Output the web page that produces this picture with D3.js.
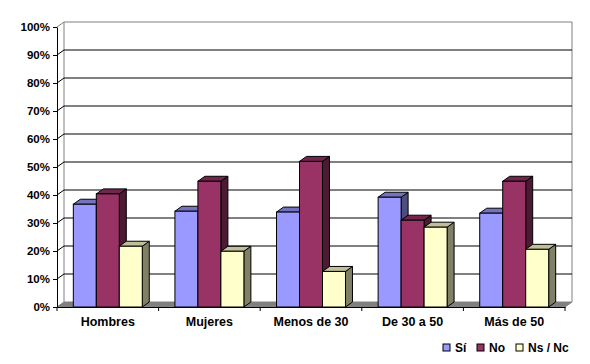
<!DOCTYPE html>
<html>
<head>
<meta charset="utf-8">
<script src="https://cdn.jsdelivr.net/npm/d3@7/dist/d3.min.js"></script>
<style>
  body { margin: 0; background: #fff; }
  text { font-family: "Liberation Sans", Arial, sans-serif; font-weight: bold; }
</style>
</head>
<body>
<div id="chart"></div>
<script>
const categories = ["Hombres", "Mujeres", "Menos de 30", "De 30 a 50", "Más de 50"];
const seriesNames = ["Sí", "No", "Ns / Nc"];
const si = [36.7, 34.2, 33.9, 39.2, 33.5];
const no = [40.4, 44.9, 52.0, 31.0, 44.9];
const nsnc = [21.7, 19.9, 12.7, 28.5, 20.6];
const yTicks = [0, 10, 20, 30, 40, 50, 60, 70, 80, 90, 100];

const W = 590, H = 364;
const dx = 7, dy = 5; // 3d depth

// front, top, side colours per series
const colors = [
  {front: "#9999ff", top: "#7373bf", side: "#4d4d80"},
  {front: "#993366", top: "#73264d", side: "#4d1a33"},
  {front: "#ffffcc", top: "#bfbf99", side: "#808066"}
];

const svg = d3.select("#chart").append("svg")
  .attr("width", W).attr("height", H);

const x = d3.scaleBand().domain(categories).range([57, 565]).padding(0);
const x1 = d3.scaleBand().domain(seriesNames).range([0, x.bandwidth()])
  .paddingInner(0).paddingOuter(0.71);
const y = d3.scaleLinear().domain([0, 100]).range([307, 27]);

const table = categories.map((c, i) => ({cat: c, vals: [si[i], no[i], nsnc[i]]}));

// back wall
const x0 = x.range()[0], xEnd = x.range()[1];
svg.append("path")
  .attr("d", `M${x0 + dx},${y(0) - dy} V${y(100) - dy} H${xEnd + dx} V${y(0) - dy}`)
  .attr("fill", "none").attr("stroke", "#808080");
svg.append("line")
  .attr("x1", x0).attr("y1", y(100)).attr("x2", x0 + dx).attr("y2", y(100) - dy)
  .attr("stroke", "#808080");

// gridlines on back wall + side wall
yTicks.filter(t => t > 0 && t < 100).forEach(t => {
  svg.append("line")
    .attr("x1", x0 + dx).attr("x2", xEnd + dx)
    .attr("y1", y(t) - dy).attr("y2", y(t) - dy)
    .attr("stroke", "#000");
  svg.append("line")
    .attr("x1", x0).attr("y1", y(t)).attr("x2", x0 + dx).attr("y2", y(t) - dy)
    .attr("stroke", "#000");
});

// floor
svg.append("path")
  .attr("d", `M${x0},${y(0)} L${xEnd},${y(0)} L${xEnd + dx},${y(0) - dy} L${x0 + dx},${y(0) - dy} Z`)
  .attr("fill", "#808080").attr("stroke", "#808080");

// bars
const bars = [];
table.forEach(d => {
  d.vals.forEach((v, j) => bars.push({cat: d.cat, s: seriesNames[j], j: j, v: v}));
});

const g = svg.selectAll("g.bar").data(bars).enter().append("g").attr("class", "bar");
g.each(function(d) {
  const el = d3.select(this);
  const bx = x(d.cat) + x1(d.s), bw = x1.bandwidth();
  const top = y(d.v), base = y(0);
  const c = colors[d.j];
  el.append("path")
    .attr("d", `M${bx + bw},${base} L${bx + bw + dx},${base - dy} L${bx + bw + dx},${top - dy} L${bx + bw},${top} Z`)
    .attr("fill", c.side).attr("stroke", "#000");
  el.append("path")
    .attr("d", `M${bx},${top} L${bx + dx},${top - dy} L${bx + bw + dx},${top - dy} L${bx + bw},${top} Z`)
    .attr("fill", c.top).attr("stroke", "#000");
  el.append("rect")
    .attr("x", bx).attr("y", top).attr("width", bw).attr("height", base - top)
    .attr("fill", c.front).attr("stroke", "#000");
});

// y axis
const yAxis = svg.append("g")
  .attr("transform", `translate(${x0},0)`)
  .call(d3.axisLeft(y).tickValues(yTicks).tickFormat(d => d + "%").tickSize(4).tickSizeOuter(0));
yAxis.select(".domain").attr("stroke", "#000");
yAxis.selectAll("text").attr("font-size", 11.5).attr("fill", "#000")
  .attr("font-family", "Liberation Sans, Arial, sans-serif").attr("font-weight", "bold");

// x axis
const xAxis = svg.append("g")
  .attr("transform", `translate(0,${y(0)})`)
  .call(d3.axisBottom(x).tickSize(0).tickPadding(10));
xAxis.select(".domain").attr("stroke", "#000");
xAxis.selectAll("text").attr("font-size", 12.5).attr("fill", "#000")
  .attr("font-family", "Liberation Sans, Arial, sans-serif").attr("font-weight", "bold");
const bounds = categories.map(c => x(c)).concat([xEnd]);
xAxis.selectAll("line.bound").data(bounds).enter().append("line")
  .attr("class", "bound")
  .attr("x1", d => d).attr("x2", d => d).attr("y1", 0).attr("y2", 4)
  .attr("stroke", "#000");

// legend
const legX = [443, 477, 516];
const leg = svg.selectAll("g.leg").data(seriesNames).enter().append("g")
  .attr("transform", (d, i) => `translate(${legX[i]},344)`);
leg.append("rect").attr("width", 7).attr("height", 7)
  .attr("fill", (d, i) => colors[i].front).attr("stroke", "#000");
leg.append("text").attr("x", 12).attr("y", 8).attr("font-size", 12)
  .text(d => d);
</script>
</body>
</html>
